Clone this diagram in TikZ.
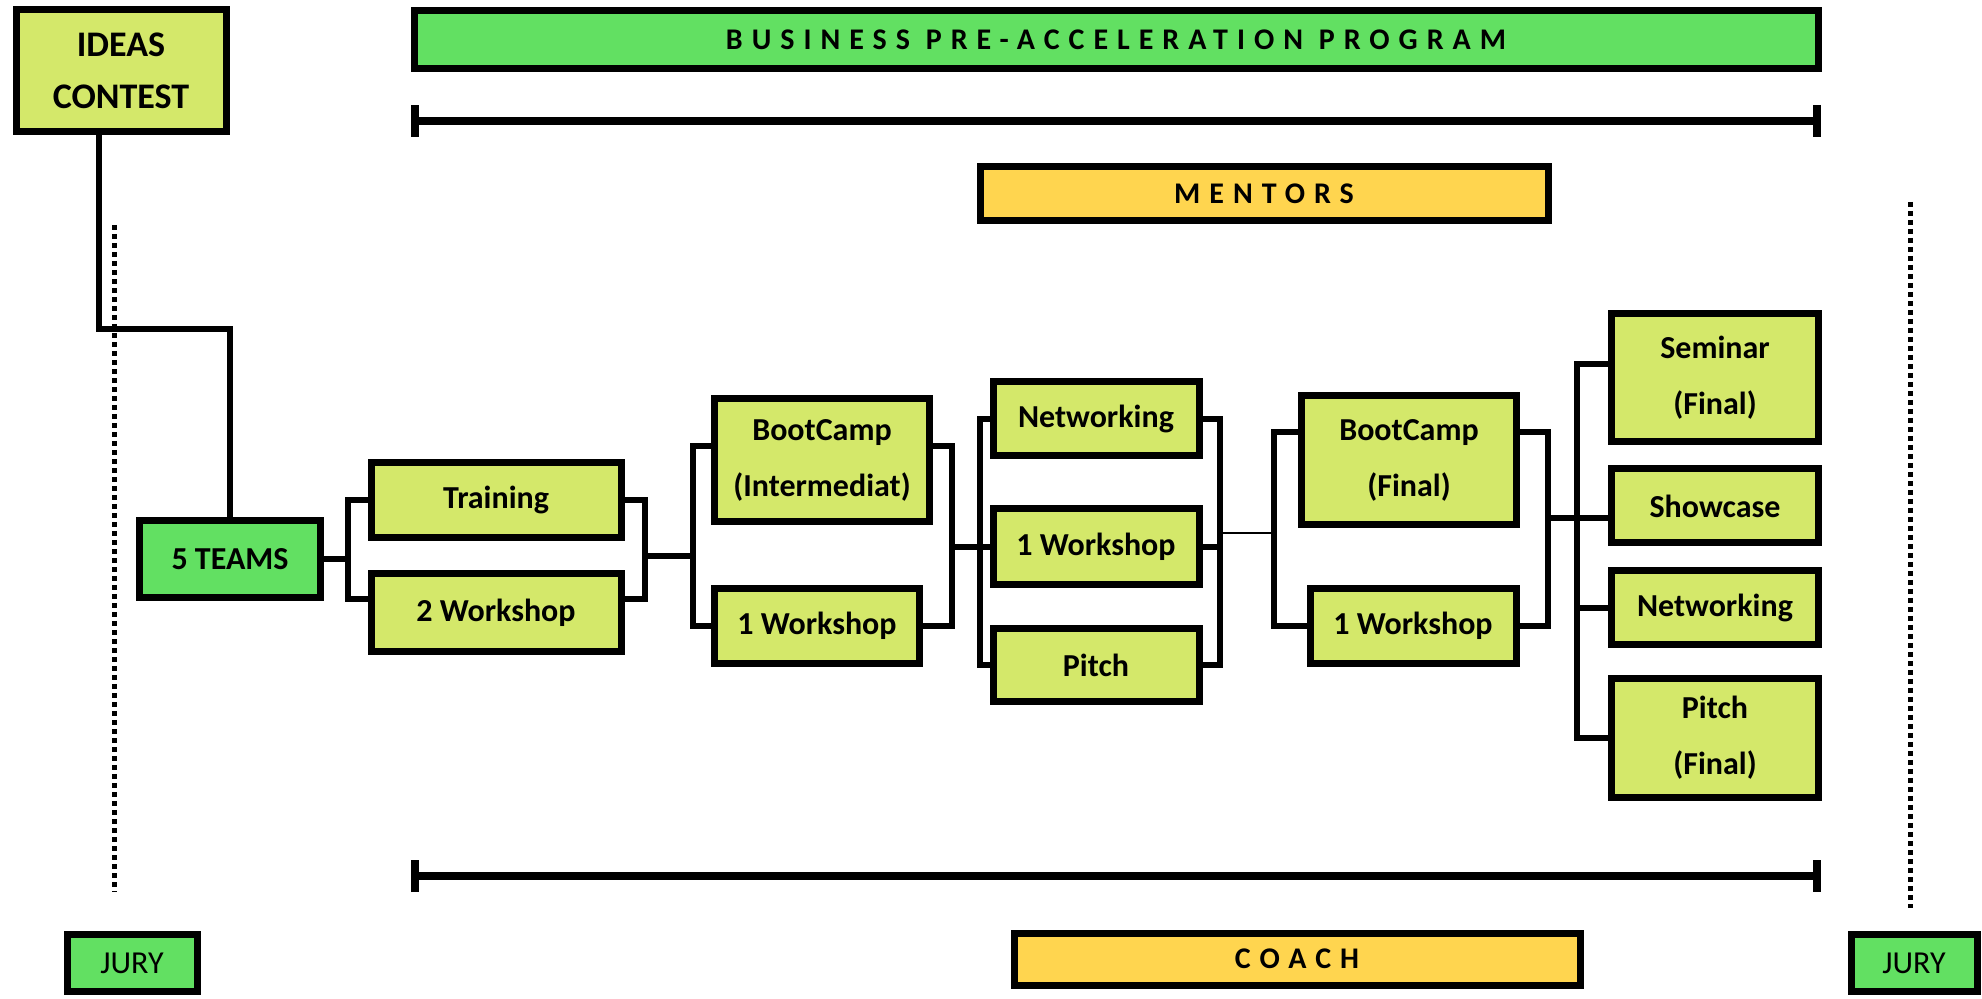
\documentclass[tikz,border=0pt]{standalone}
\usepackage{fontspec}
\setmainfont{Carlito}
\newfontfamily\spacedfont[LetterSpace=30]{Carlito}
\usetikzlibrary{arrows.meta}

\definecolor{limefill}{HTML}{D4E86A}
\definecolor{greenfill}{HTML}{62E062}
\definecolor{amberfill}{HTML}{FFD54F}

\begin{document}
\begin{tikzpicture}[x=0.5pt, y=-0.5pt]

\tikzstyle{box_style} = [draw=black, line width=3.5pt, fill=limefill, inner sep=0pt, align=center, font=\fontsize{16}{28}\selectfont\bfseries]

\tikzstyle{green_style} = [box_style, fill=greenfill]

\tikzstyle{band_style} = [draw=black, line width=3.5pt, inner sep=0pt, font=\spacedfont\fontsize{15}{17}\selectfont\bfseries]

\tikzstyle{edge_style} = [draw=black, line width=3pt]

\tikzstyle{edge_style2} = [draw=black, line width=1.2pt]

\tikzstyle{span_style} = [draw=black, line width=4pt, {Bar[width=16pt]}-{Bar[width=16pt]}]

\tikzstyle{dot_style} = [draw=black, line width=2.5pt, dash pattern=on 2.5pt off 2pt]

\useasboundingbox (0,0) rectangle (1982,999);

% headers and bands
\node[box_style, minimum width=105pt, minimum height=61pt, font=\fontsize{18}{26}\selectfont\bfseries] (ideas) at (121,71) {IDEAS\\CONTEST};
\node[band_style, fill=greenfill, minimum width=702pt, minimum height=29pt] (program) at (1116,40) {BUSINESS PRE-ACCELERATION PROGRAM};
\node[band_style, fill=amberfill, minimum width=284pt, minimum height=27pt] (mentors) at (1264,194) {MENTORS};
\node[band_style, fill=amberfill, minimum width=283pt, minimum height=26pt] (coach) at (1297,959) {COACH};
\node[green_style, minimum width=65pt, minimum height=28.5pt, font=\fontsize{16}{20}\selectfont] (jury1) at (132,963) {JURY};
\node[green_style, minimum width=63pt, minimum height=28.5pt, font=\fontsize{16}{20}\selectfont] (jury2) at (1914,963) {JURY};

% stages
\node[green_style, minimum width=90.5pt, minimum height=38.5pt] (teams) at (230,559) {5 TEAMS};
\node[box_style, minimum width=125pt, minimum height=37.5pt] (train) at (496,500) {Training};
\node[box_style, minimum width=125pt, minimum height=39pt] (wsA) at (496,613) {2 Workshop};
\node[box_style, minimum width=107.5pt, minimum height=61.5pt] (bootI) at (822,460) {BootCamp\\(Intermediat)};
\node[box_style, minimum width=102.5pt, minimum height=37.5pt] (wsB) at (817,626) {1 Workshop};
\node[box_style, minimum width=103pt, minimum height=37pt] (netA) at (1096,419) {Networking};
\node[box_style, minimum width=103pt, minimum height=38pt] (wsC) at (1096,547) {1 Workshop};
\node[box_style, minimum width=103pt, minimum height=36.5pt] (pitchA) at (1096,665) {Pitch};
\node[box_style, minimum width=107.5pt, minimum height=64.5pt] (bootF) at (1409,460) {BootCamp\\(Final)};
\node[box_style, minimum width=103pt, minimum height=37.5pt] (wsD) at (1413,626) {1 Workshop};
\node[box_style, minimum width=103.5pt, minimum height=64pt] (seminar) at (1715,378) {Seminar\\(Final)};
\node[box_style, minimum width=103.5pt, minimum height=37pt] (showcase) at (1715,506) {Showcase};
\node[box_style, minimum width=103.5pt, minimum height=37pt] (netB) at (1715,608) {Networking};
\node[box_style, minimum width=103.5pt, minimum height=59pt] (pitchB) at (1715,738) {Pitch\\(Final)};

% junctions
\coordinate (bend) at (99,329);
\coordinate (s1) at (348,559);
\coordinate (j1) at (645,556);
\coordinate (j2) at (693,556);
\coordinate (j3) at (952,547);
\coordinate (j4) at (980,547);
\coordinate (j5) at (1220,533);
\coordinate (j6) at (1274,533);
\coordinate (j7) at (1548,518);
\coordinate (j8) at (1577,608);

\coordinate (ta) at (411,121);
\coordinate (tb) at (1821,121);
\coordinate (ba) at (411,876);
\coordinate (bb) at (1821,876);
\coordinate (dl1) at (114,225);
\coordinate (dl2) at (114,892);
\coordinate (dr1) at (1910,202);
\coordinate (dr2) at (1910,908);

\draw[span_style] (ta) -- (tb);
\draw[span_style] (ba) -- (bb);
\draw[dot_style] (dl1) -- (dl2);
\draw[dot_style] (dr1) -- (dr2);

\draw[edge_style] ([xshift=-11pt]ideas.south) -- (bend) -| (teams.north);

\draw[edge_style] (teams.east) -- (s1);
\draw[edge_style] (s1) |- (train.west);
\draw[edge_style] (s1) |- ([yshift=7pt]wsA.west);
\draw[edge_style] (train.east) -| (j1);
\draw[edge_style] ([yshift=7pt]wsA.east) -| (j1);
\draw[edge_style] (j1) -- (j2);

\draw[edge_style] (j2) |- ([yshift=7pt]bootI.west);
\draw[edge_style] (j2) |- (wsB.west);
\draw[edge_style] ([yshift=7pt]bootI.east) -| (j3);
\draw[edge_style] (wsB.east) -| (j3);
\draw[edge_style] (j3) -- (j4);

\draw[edge_style] (j4) |- (netA.west);
\draw[edge_style] (j4) -- (wsC.west);
\draw[edge_style] (j4) |- (pitchA.west);
\draw[edge_style] (netA.east) -| (j5);
\draw[edge_style] (wsC.east) -- (wsC.east -| j5);
\draw[edge_style] (pitchA.east) -| (j5);
\draw[edge_style2] (j5) -- (j6);

\draw[edge_style] (j6) |- ([yshift=14pt]bootF.west);
\draw[edge_style] (j6) |- (wsD.west);
\draw[edge_style] ([yshift=14pt]bootF.east) -| (j7);
\draw[edge_style] (wsD.east) -| (j7);
\draw[edge_style] (j7) -- (j7 -| showcase.west);

\draw[edge_style] ([yshift=7pt]seminar.west) -| (j8) |- (pitchB.west);
\draw[edge_style] (j8) -- (netB.west);

\end{tikzpicture}
\end{document}
